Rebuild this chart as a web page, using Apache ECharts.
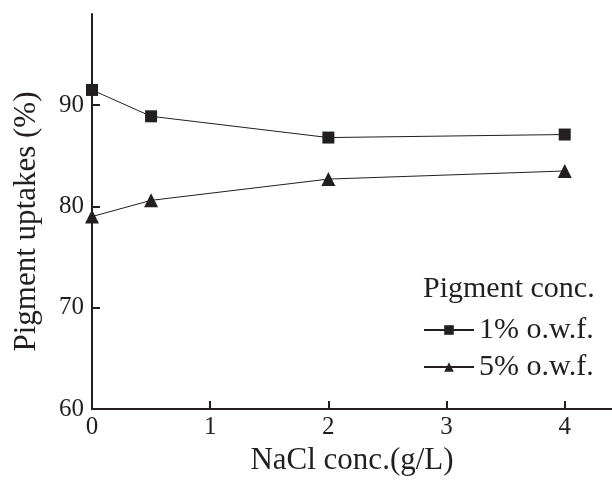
<!DOCTYPE html>
<html>
<head>
<meta charset="utf-8">
<script src="https://cdn.jsdelivr.net/npm/echarts@6/dist/echarts.min.js"></script>
<style>
  html, body { margin: 0; padding: 0; background: #fff; }
  #chart { width: 612px; height: 481px; }
</style>
</head>
<body>
<div id="chart"></div>
<script>
// NaCl 浓度 (g/L)
const naclConc = [0, 0.5, 2, 4];
// 颜料上染率 (%)
const uptake1 = [91.5, 88.9, 86.8, 87.1];
const uptake5 = [79.0, 80.6, 82.7, 83.5];
const xTicks = [0, 1, 2, 3, 4];
const yTicks = [60, 70, 80, 90];

const toPairs = (xs, ys) => xs.map((x, i) => [x, ys[i]]);

const font = 'Liberation Serif, Times New Roman, serif';
const ink = '#231f20';

const myChart = echarts.init(document.getElementById('chart'));

const option = {
  animation: false,
  backgroundColor: '#fff',
  title: {
    text: 'Pigment conc.',
    left: 418,
    top: 269,
    textStyle: { fontFamily: font, fontSize: 30, fontWeight: 'normal', color: ink }
  },
  legend: {
    orient: 'vertical',
    left: 418,
    top: 310,
    itemWidth: 50,
    itemHeight: 12,
    itemGap: 7,
    textStyle: { fontFamily: font, fontSize: 30, color: ink },
    data: ['1% o.w.f.', '5% o.w.f.']
  },
  grid: { left: 92, right: 0, top: 14, bottom: 72 },
  xAxis: {
    type: 'value',
    min: 0,
    max: 4.4,
    interval: 1,
    name: 'NaCl conc.(g/L)',
    nameLocation: 'middle',
    nameGap: 34,
    nameTextStyle: { fontFamily: font, fontSize: 31, color: ink },
    axisLine: { lineStyle: { color: ink, width: 2 } },
    axisTick: { inside: true, length: 8, lineStyle: { color: ink, width: 2 }, customValues: xTicks },
    axisLabel: { fontFamily: font, fontSize: 25, color: ink, margin: 6, customValues: xTicks },
    splitLine: { show: false }
  },
  yAxis: {
    type: 'value',
    min: 60,
    max: 99,
    interval: 10,
    name: 'Pigment uptakes (%)',
    nameLocation: 'middle',
    nameGap: 50,
    nameTextStyle: { fontFamily: font, fontSize: 31, color: ink, padding: [0, 20, 0, 0] },
    axisLine: { lineStyle: { color: ink, width: 2 } },
    axisTick: { inside: true, length: 8, lineStyle: { color: ink, width: 2 }, customValues: yTicks },
    axisLabel: { fontFamily: font, fontSize: 25, color: ink, margin: 8, customValues: yTicks },
    splitLine: { show: false }
  },
  series: [
    {
      name: '1% o.w.f.',
      type: 'line',
      data: toPairs(naclConc, uptake1),
      symbol: 'rect',
      symbolSize: 12,
      itemStyle: { color: ink },
      lineStyle: { color: ink, width: 1 }
    },
    {
      name: '5% o.w.f.',
      type: 'line',
      data: toPairs(naclConc, uptake5),
      symbol: 'triangle',
      symbolSize: 14,
      itemStyle: { color: ink },
      lineStyle: { color: ink, width: 1 }
    }
  ]
};

myChart.setOption(option, true);
window.onresize = myChart.resize;
</script>
</body>
</html>
